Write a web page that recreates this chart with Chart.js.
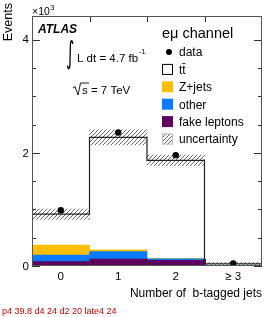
<!DOCTYPE html>
<html>
<head>
<meta charset="utf-8">
<script src="https://cdn.jsdelivr.net/npm/chart.js@4/dist/chart.umd.min.js"></script>
<style>
    html, body { margin: 0; padding: 0; background: #fff; }
</style>
</head>
<body>
<canvas id="chart" width="266" height="317"></canvas>
<script>
// events, in units of 10^3
const bins = ['0', '1', '2', '\u2265 3'];
const dataCounts = [0.985, 2.36, 1.96, 0.047];
const ttbar = [0.545, 1.99, 1.735, 0.022];
const zJets = [0.177, 0.03, 0.006, 0.002];
const other = [0.118, 0.13, 0.028, 0.006];
const fakeLeptons = [0.076, 0.124, 0.10, 0.01];
const uncertainty = [0.092, 0.135, 0.09, 0.025];
const yLabels = [0, 2, 4];

const FONT = '"Liberation Sans", Arial, Helvetica, sans-serif';
const colors = {
    zjets: '#ffbf00',
    other: '#0a7bff',
    fake: '#5e0060',
    line: '#222'
};

// total prediction = sum of all samples
const totals = bins.map((b, i) => ttbar[i] + zJets[i] + other[i] + fakeLeptons[i]);

// step outline: one point on the left edge of every bin, plus the right edge of the last one
const stepPoints = totals.map((v, i) => ({ x: i - 0.5, y: v }));
stepPoints.push({ x: bins.length - 0.5, y: totals[totals.length - 1] });

const ctx = document.getElementById('chart').getContext('2d');

function makeHatch() {
    const p = document.createElement('canvas');
    p.width = 4; p.height = 4;
    const g = p.getContext('2d');
    g.strokeStyle = '#555';
    g.lineWidth = 0.9;
    g.beginPath();
    g.moveTo(0, 4); g.lineTo(4, 0);
    g.moveTo(-1, 1); g.lineTo(1, -1);
    g.moveTo(3, 5); g.lineTo(5, 3);
    g.stroke();
    return ctx.createPattern(p, 'repeat');
}
const hatch = makeHatch();

const barDefaults = {
    type: 'bar',
    grouped: false,
    barPercentage: 1,
    categoryPercentage: 1,
    borderWidth: 0
};

function darkPixels(c, x, y, w, h) {
    const d = c.getImageData(x, y, w, h).data;
    let n = 0;
    for (let i = 0; i < d.length; i += 4) if (d[i + 3] > 100 && d[i] < 120) n++;
    return n;
}
let dbg = '';

// frame, inward ticks, labels and legend drawn in ROOT / ATLAS style
const atlasDecor = {
    id: 'atlasDecor',
    afterDatasetsDraw(chart) {
        const c = chart.ctx;
        const { left, right, top, bottom } = chart.chartArea;
        const xs = chart.scales.x, ys = chart.scales.y;
        c.save();

        // ticks
        c.strokeStyle = '#333';
        c.lineWidth = 1;
        c.beginPath();
        for (let v = 0; v <= ys.max + 1e-9; v += 0.5) {
            const y = Math.round(ys.getPixelForValue(v)) + 0.5;
            const len = (Math.abs(v % 2) < 1e-9) ? 8 : 4;
            c.moveTo(left, y); c.lineTo(left + len, y);
            c.moveTo(right, y); c.lineTo(right - len, y);
        }
        for (let i = 0; i < bins.length - 1; i++) {
            const x = Math.round(xs.getPixelForValue(i + 0.5)) + 0.5;
            c.moveTo(x, bottom); c.lineTo(x, bottom - 7);
            c.moveTo(x, top); c.lineTo(x, top + 6);
        }
        c.stroke();

        // frame
        c.strokeStyle = '#555';
        c.strokeRect(left + 0.5, top + 0.5, right - left - 1, bottom - top - 1);

        c.fillStyle = '#000';
        c.textBaseline = 'alphabetic';

        // x10^3
        c.textAlign = 'left';
        c.font = '10.5px ' + FONT;
        c.fillText('\u00d710', left, 15);
        const mw = c.measureText('\u00d710').width;
        c.font = '7.5px ' + FONT;
        c.fillText('3', left + mw + 0.5, 10);

        // y title
        c.save();
        c.translate(12, 3);
        c.rotate(-Math.PI / 2);
        c.textAlign = 'right';
        c.font = '12.5px ' + FONT;
        c.fillText('Events', 0, 0);
        c.restore();

        // x title
        c.textAlign = 'right';
        c.font = '12px ' + FONT;
        c.fillText('Number of  b-tagged jets', right, 297);

        // ATLAS label
        c.textAlign = 'left';
        c.font = 'italic bold 12px ' + FONT;
        c.fillText('ATLAS', 38, 33);

        // luminosity
        c.save();
        c.translate(66, 63);
        c.scale(1, 1.9);
        c.font = '16px "DejaVu Sans", sans-serif';
        c.fillText('\u222b', 0, 0);
        c.restore();
        c.font = '11.5px ' + FONT;
        c.fillText('L dt = 4.7 fb', 77, 62);
        const lw = c.measureText('L dt = 4.7 fb').width;
        c.font = '7.5px ' + FONT;
        c.fillText('-1', 77 + lw + 1, 54);

        // sqrt(s)
        c.font = '11.5px ' + FONT;
        c.fillText('s = 7 TeV', 82, 94);
        c.strokeStyle = '#000';
        c.lineWidth = 0.9;
        c.beginPath();
        c.moveTo(73, 88);
        c.lineTo(75, 86.5);
        c.lineTo(78, 95);
        c.lineTo(80.5, 83);
        c.lineTo(89, 83);
        c.stroke();

        // legend
        const lx = 162, tx = 179;
        c.font = '14.5px ' + FONT;
        c.fillText('e\u03bc channel', lx, 37.5);
        c.font = '12px ' + FONT;
        const rows = [
            { label: 'data', kind: 'dot' },
            { label: 'tt\u0304', kind: 'box', fill: '#fff', border: '#000' },
            { label: 'Z+jets', kind: 'box', fill: colors.zjets },
            { label: 'other', kind: 'box', fill: colors.other },
            { label: 'fake leptons', kind: 'box', fill: colors.fake },
            { label: 'uncertainty', kind: 'box', fill: hatch, border: '#bbb' }
        ];
        rows.forEach((r, i) => {
            const cy = 52 + i * 17.4;
            if (r.kind === 'dot') {
                c.beginPath();
                c.arc(lx + 7, cy, 3, 0, Math.PI * 2);
                c.fillStyle = '#000';
                c.fill();
            } else {
                c.fillStyle = r.fill;
                c.fillRect(lx, cy - 5.5, 11, 11);
                if (r.border) {
                    c.strokeStyle = r.border;
                    c.lineWidth = 1;
                    c.strokeRect(lx + 0.5, cy - 5, 10, 10);
                }
            }
            c.fillStyle = '#000';
            c.fillText(r.label, tx, cy + 4.3);
        });

        c.restore();
    },
    afterDraw(chart) {
        // y tick labels
        const c = chart.ctx;
        const ys = chart.scales.y;
        c.save();
        c.fillStyle = '#000';
        c.textAlign = 'right';
        c.textBaseline = 'middle';
        c.font = '11.5px ' + FONT;
        yLabels.forEach(v => c.fillText(String(v), 29, ys.getPixelForValue(v) + 0.5));
        dbg = 'p4 ' + ys.getPixelForValue(4).toFixed(1) + ' d4 ' + darkPixels(c, 18, 32, 14, 16) + ' d2 ' + darkPixels(c, 18, 145, 14, 16);
        c.restore();
    }
};

const chart = new Chart(ctx, {
    data: {
        datasets: [
            {
                type: 'line',
                label: 'data',
                stack: 'data',
                data: dataCounts.map((v, i) => ({ x: i, y: v })),
                showLine: false,
                pointRadius: 3.2,
                pointBackgroundColor: '#000',
                pointBorderWidth: 0
            },
            {
                type: 'line',
                label: 'total',
                stack: 'total',
                data: stepPoints,
                stepped: 'before',
                borderColor: colors.line,
                borderWidth: 1.2,
                pointRadius: 0,
                fill: false
            },
            Object.assign({}, barDefaults, {
                label: 'uncertainty',
                stack: 'unc',
                data: totals.map((v, i) => ({ x: i, y: [v - uncertainty[i], v + uncertainty[i]] })),
                backgroundColor: hatch
            }),
            Object.assign({}, barDefaults, {
                label: 'fake leptons',
                stack: 'bkg',
                data: fakeLeptons.map((v, i) => ({ x: i, y: v })),
                backgroundColor: colors.fake
            }),
            Object.assign({}, barDefaults, {
                label: 'other',
                stack: 'bkg',
                data: other.map((v, i) => ({ x: i, y: v })),
                backgroundColor: colors.other
            }),
            Object.assign({}, barDefaults, {
                label: 'Z+jets',
                stack: 'bkg',
                data: zJets.map((v, i) => ({ x: i, y: v })),
                backgroundColor: colors.zjets
            })
        ]
    },
    options: {
        responsive: false,
        animation: false,
        devicePixelRatio: 1,
        layout: { padding: { left: 0, right: 4, top: 16, bottom: 0 } },
        plugins: {
            legend: { display: false },
            tooltip: { enabled: false }
        },
        scales: {
            x: {
                type: 'linear',
                offset: false,
                min: -0.5,
                max: bins.length - 0.5,
                grid: { display: false, drawTicks: false, offset: false },
                border: { display: false },
                ticks: {
                    padding: 4,
                    color: '#000',
                    font: { family: FONT, size: 11.5 },
                    maxRotation: 0,
                    autoSkip: false,
                    callback: v => bins[v] !== undefined ? bins[v] : ''
                },
                afterBuildTicks: s => { s.ticks = bins.map((b, i) => ({ value: i })); },
                afterFit: s => { s.height = 51; }
            },
            y: {
                stacked: true,
                min: 0,
                max: 4.42,
                grid: { display: false, drawTicks: false },
                border: { display: false },
                ticks: { display: false },
                afterFit: s => { s.width = 32; }
            }
        }
    },
    plugins: [atlasDecor]
});

setTimeout(() => {
    ctx.save();
    ctx.fillStyle = '#c00';
    ctx.font = '9px ' + FONT;
    ctx.textAlign = 'left';
    ctx.textBaseline = 'alphabetic';
    ctx.fillText(dbg + ' late4 ' + darkPixels(ctx, 18, 32, 14, 16), 2, 314);
    ctx.restore();
}, 300);
</script>
</body>
</html>
